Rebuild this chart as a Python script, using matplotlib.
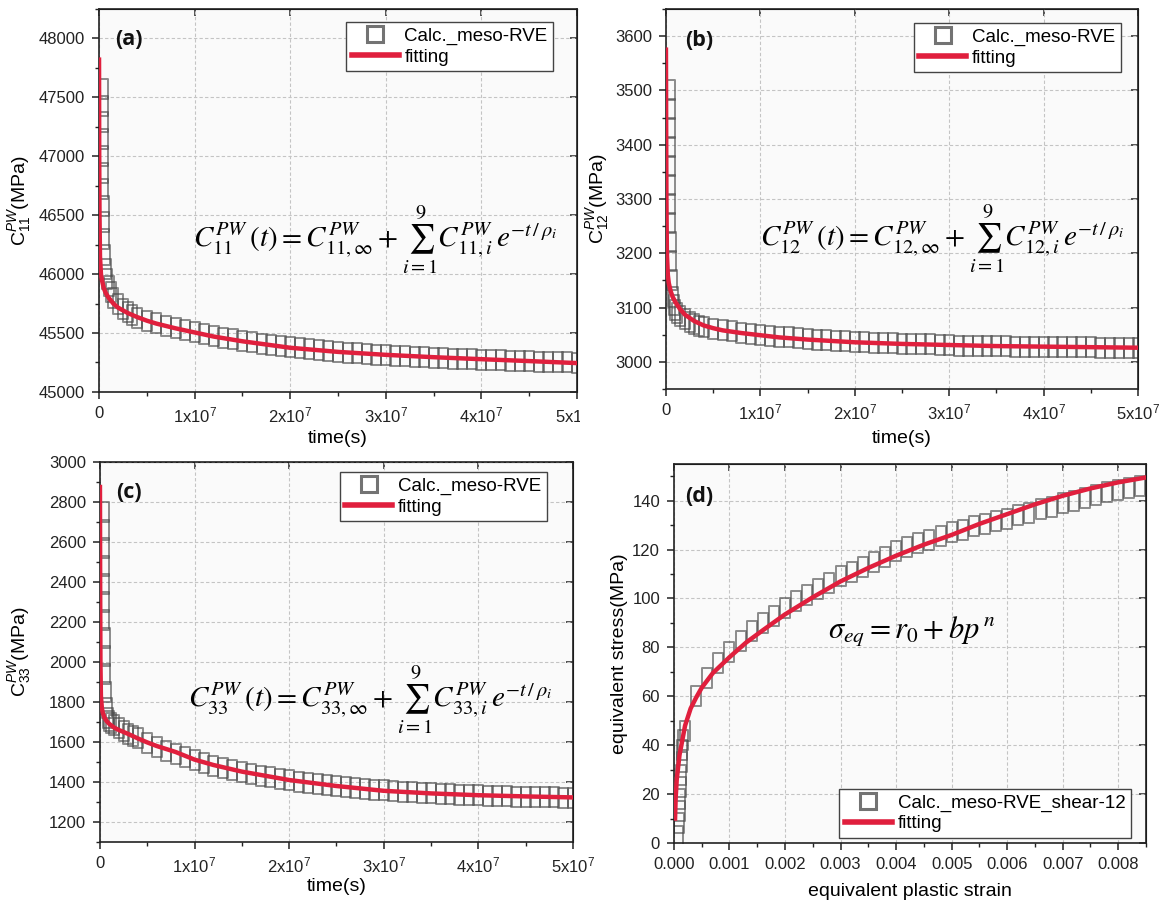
import numpy as np
import matplotlib
matplotlib.use("Agg")
import matplotlib.pyplot as plt
from matplotlib.path import Path
from matplotlib.lines import Line2D
from matplotlib.ticker import MultipleLocator
from matplotlib.transforms import Bbox, TransformedBbox

plt.rcParams["font.family"] = ["Liberation Sans", "DejaVu Sans"]
plt.rcParams["mathtext.fontset"] = "custom"
plt.rcParams["mathtext.rm"] = "Liberation Sans"
plt.rcParams["mathtext.it"] = "Liberation Sans:italic"
plt.rcParams["mathtext.bf"] = "Liberation Sans:bold"

# ---------------- DATA ----------------
# time samples of the meso-RVE calculation (shared by panels a, b, c)
time_s = [4.0e5, 4.1e5, 4.2e5, 4.3e5, 4.4e5, 4.5e5, 4.6e5, 4.8e5, 5.0e5, 5.5e5, 6.0e5, 7.0e5,
          8.0e5, 1.0e6, 1.2e6, 1.5e6, 2.0e6, 2.5e6, 3.0e6, 3.5e6, 4.0e6,
          5e6, 6e6, 7e6, 8e6, 9e6, 1.0e7, 1.1e7, 1.2e7, 1.3e7, 1.4e7, 1.5e7,
          1.6e7, 1.7e7, 1.8e7, 1.9e7, 2.0e7, 2.1e7, 2.2e7, 2.3e7, 2.4e7, 2.5e7,
          2.6e7, 2.7e7, 2.8e7, 2.9e7, 3.0e7, 3.1e7, 3.2e7, 3.3e7, 3.4e7, 3.5e7,
          3.6e7, 3.7e7, 3.8e7, 3.9e7, 4.0e7, 4.1e7, 4.2e7, 4.3e7, 4.4e7, 4.5e7,
          4.6e7, 4.7e7, 4.8e7, 4.9e7, 5.0e7]

c11_calc = [47570, 47430, 47290, 47150, 47000, 46860, 46720, 46580, 46440, 46300, 46160, 46040,
            45960, 45900, 45850, 45800, 45745, 45705, 45675, 45650, 45630,
            45605, 45582, 45560, 45541, 45523, 45506, 45490, 45474, 45460, 45446, 45433,
            45421, 45409, 45398, 45388, 45378, 45369, 45361, 45353, 45346, 45339,
            45333, 45327, 45321, 45316, 45311, 45306, 45302, 45298, 45294, 45290,
            45286, 45283, 45280, 45277, 45274, 45271, 45268, 45265, 45262, 45260,
            45257, 45255, 45252, 45250, 45248]

c12_calc = [3500, 3465, 3430, 3395, 3360, 3325, 3290, 3255, 3220, 3185, 3150, 3120,
            3105, 3095, 3090, 3084, 3078, 3073, 3069, 3066, 3064,
            3061, 3058, 3056, 3054, 3052, 3050, 3048, 3046, 3045, 3043, 3042,
            3041, 3040, 3039, 3038, 3037, 3036, 3035, 3035, 3034, 3033,
            3033, 3032, 3032, 3031, 3031, 3030, 3030, 3030, 3029, 3029,
            3029, 3028, 3028, 3028, 3028, 3027, 3027, 3027, 3027, 3027,
            3026, 3026, 3026, 3026, 3026]

c33_calc = [2750, 2660, 2570, 2480, 2390, 2300, 2210, 2120, 2030, 1940, 1850, 1770,
            1720, 1705, 1695, 1685, 1670, 1655, 1642, 1630, 1618,
            1595, 1575, 1557, 1540, 1524, 1508, 1495, 1482, 1470, 1459, 1449,
            1440, 1431, 1423, 1415, 1408, 1401, 1395, 1389, 1384, 1379,
            1374, 1370, 1366, 1362, 1358, 1355, 1352, 1349, 1346, 1343,
            1341, 1339, 1337, 1335, 1333, 1331, 1330, 1328, 1327, 1326,
            1325, 1324, 1323, 1322, 1321]

# fitted Prony series (red curves)
fit_time = [0, 2e4, 5e4, 1e5, 2e5, 3e5, 5e5, 7e5, 1e6, 1.5e6, 2e6, 3e6, 4e6, 5e6, 6e6,
            8e6, 1e7, 1.2e7, 1.5e7, 2e7, 2.5e7, 3e7, 3.5e7, 4e7, 4.5e7, 5e7]
c11_fit = [47820, 47000, 46500, 46150, 46000, 45950, 45880, 45840, 45800, 45750, 45715,
           45670, 45635, 45605, 45580, 45540, 45505, 45470, 45430, 45375, 45340, 45315,
           45295, 45278, 45262, 45245]
c12_fit = [3575, 3450, 3300, 3200, 3160, 3145, 3130, 3120, 3110, 3097, 3087, 3075, 3067,
           3062, 3058, 3053, 3049, 3045, 3041, 3036, 3033, 3031, 3029, 3028, 3027, 3026]
c33_fit = [2875, 2400, 2000, 1830, 1770, 1745, 1720, 1705, 1690, 1672, 1660, 1640, 1618,
           1598, 1580, 1550, 1512, 1485, 1452, 1410, 1380, 1356, 1343, 1334, 1328, 1323]

# panel (d): shear-12 hardening curve
strain_calc = [0.00008, 0.00009, 0.00010, 0.00011, 0.00012, 0.00013, 0.00014, 0.00015, 0.00017,
               0.0002, 0.0004, 0.0006, 0.0008, 0.0010, 0.0012, 0.0014, 0.0016, 0.0018,
               0.0020, 0.0022, 0.0024, 0.0026, 0.0028, 0.0030, 0.0032, 0.0034, 0.0036,
               0.0038, 0.0040, 0.0042, 0.0044, 0.0046, 0.0048, 0.0050, 0.0052, 0.0054,
               0.0056, 0.0058, 0.0060, 0.0062, 0.0064, 0.0066, 0.0068, 0.0070, 0.0072,
               0.0074, 0.0076, 0.0078, 0.0080, 0.0082, 0.0084]
stress_calc = [3, 8, 13, 18, 23, 28, 33, 38, 42,
               46, 60, 67.5, 73.5, 78, 82.5, 86.5, 90, 93,
               96, 99, 101.5, 104, 106.5, 109, 111, 113, 115,
               117, 119.5, 121, 122.5, 124, 125.5, 127, 128, 129.5,
               130.5, 131.5, 132.5, 134, 135, 136.5, 137.5, 139, 140,
               141, 142.5, 143.5, 144.5, 145, 146]
strain_fit = [0.00002, 0.00003, 0.00005, 0.0001, 0.0002, 0.0003, 0.0004, 0.0005, 0.0007,
              0.001, 0.0013, 0.0016, 0.002, 0.0025, 0.003, 0.0035, 0.004, 0.0045, 0.005,
              0.0055, 0.006, 0.0065, 0.007, 0.0075, 0.008, 0.0085]
stress_fit = [10, 18, 26, 36, 48, 55, 59.5, 63.5, 69.5,
              76, 82, 87, 93.5, 100.5, 107, 112.5, 117.5, 122, 126,
              130.5, 134.5, 138.5, 142, 145, 147.5, 149.5]

time_ticks = [0, 1e7, 2e7, 3e7, 4e7, 5e7]
time_tick_labels = ["0", "1x10$^7$", "2x10$^7$", "3x10$^7$", "4x10$^7$", "5x10$^7$"]
strain_ticks = [0, 0.001, 0.002, 0.003, 0.004, 0.005, 0.006, 0.007, 0.008]
strain_tick_labels = ["0.000", "0.001", "0.002", "0.003", "0.004", "0.005",
                      "0.006", "0.007", "0.008"]

# ---------------- STYLE ----------------
RED = "#e01f3d"
BOX = (0.28, 0.28, 0.28, 0.62)
# open rectangle, taller than wide, as the Origin symbol appears in the figure
RECT = Path([(-0.27, -0.5), (0.27, -0.5), (0.27, 0.5), (-0.27, 0.5), (0, 0)],
            [Path.MOVETO, Path.LINETO, Path.LINETO, Path.LINETO, Path.CLOSEPOLY])

fig = plt.figure(figsize=(11.61, 9.05), dpi=100)
fig.patch.set_facecolor("white")

ax_a = fig.add_axes([0.0853, 0.5669, 0.4117, 0.4232])
ax_b = fig.add_axes([0.5736, 0.5702, 0.4066, 0.4199])
ax_c = fig.add_axes([0.0861, 0.0696, 0.4074, 0.4199])
ax_d = fig.add_axes([0.5805, 0.0685, 0.4066, 0.4188])


def style_axis(ax, xlim, ylim, xticks, xlabels, xminor, ymajor, yminor):
    ax.set_facecolor("#fafafa")
    ax.set_xlim(*xlim)
    ax.set_ylim(*ylim)
    ax.set_xticks(xticks)
    ax.set_xticklabels(xlabels)
    ax.xaxis.set_minor_locator(MultipleLocator(xminor))
    ax.yaxis.set_major_locator(MultipleLocator(ymajor))
    ax.yaxis.set_minor_locator(MultipleLocator(yminor))
    ax.tick_params(which="major", direction="out", length=5, width=1.1,
                   labelsize=12, colors="#222222", pad=5)
    ax.tick_params(which="minor", direction="out", length=3, width=1.0, colors="#222222")
    ax.grid(True, which="major", color="#c4c4c4", ls=(0, (3, 2)), lw=0.8)
    ax.set_axisbelow(True)
    for sp in ax.spines.values():
        sp.set_linewidth(1.2)
        sp.set_color("#222222")
    top = ax.secondary_xaxis("top")
    top.set_xticks(xticks)
    top.tick_params(direction="in", length=5, width=1.1, labeltop=False, colors="#222222")
    right = ax.secondary_yaxis("right")
    right.set_yticks(np.arange(ylim[0] - ylim[0] % ymajor, ylim[1] + ymajor, ymajor))
    right.tick_params(direction="in", length=5, width=1.1, labelright=False, colors="#222222")


def add_legend(ax, label, **kw):
    handles = [Line2D([], [], ls="none", marker="s", ms=12, mfc="none",
                      mec=(0.45, 0.45, 0.45), mew=2.2),
               Line2D([], [], color=RED, lw=4)]
    leg = ax.legend(handles, [label, "fitting"], fontsize=13.5, frameon=True,
                    fancybox=False, handlelength=2.5, handletextpad=0.3,
                    borderpad=0.3, labelspacing=0.2, borderaxespad=0, **kw)
    leg.get_frame().set_edgecolor("#444444")
    leg.get_frame().set_linewidth(1.0)
    leg.get_frame().set_facecolor("white")
    leg.get_frame().set_alpha(1)


def panel_tag(ax, tag, x, y):
    ax.text(x, y, tag, transform=ax.transAxes, fontsize=15.5, fontweight="bold",
            family="Open Sans", ha="left", va="center", color="#111111")


def draw_calc(ax, x, y):
    ax.plot(x, y, ls="none", marker=RECT, ms=14.5, mfc="none", mec=BOX, mew=1.4)


# (a) C11
style_axis(ax_a, (0, 5e7), (45000, 48250), time_ticks, time_tick_labels, 5e6, 500, 250)
draw_calc(ax_a, time_s, c11_calc)
ax_a.plot(fit_time, c11_fit, color=RED, lw=3.2, zorder=3)
ax_a.set_ylabel(r"C$_{11}^{PW}$(MPa)", fontsize=14)
ax_a.set_xlabel("time(s)", fontsize=14)
ax_a.yaxis.set_label_coords(-0.138, 0.5)
ax_a.xaxis.set_label_coords(0.5, -0.10)
add_legend(ax_a, "Calc._meso-RVE", loc="upper left", bbox_to_anchor=(0.517, 0.966))
panel_tag(ax_a, "(a)", 0.033, 0.92)
ax_a.text(0.577, 0.397,
          r"$C_{11}^{PW}\,(t) = C_{11,\infty}^{PW} + \sum_{i=1}^{9} C_{11,i}^{PW}\,e^{-t\,/\,\rho_i}$",
          transform=ax_a.transAxes, ha="center", va="center", fontsize=21,
          math_fontfamily="stix")
# right-most tick label of (a) is cut by the panel edge in the original figure
last = ax_a.xaxis.get_major_ticks()[-1].label1
last.set_clip_box(TransformedBbox(Bbox([[0, 0], [580 / 1161, 1]]), fig.transFigure))
last.set_clip_on(True)

# (b) C12
style_axis(ax_b, (0, 5e7), (2950, 3650), time_ticks, time_tick_labels, 5e6, 100, 50)
draw_calc(ax_b, time_s, c12_calc)
ax_b.plot(fit_time, c12_fit, color=RED, lw=3.2, zorder=3)
ax_b.set_ylabel(r"C$_{12}^{PW}$(MPa)", fontsize=14)
ax_b.set_xlabel("time(s)", fontsize=14)
ax_b.yaxis.set_label_coords(-0.117, 0.5)
ax_b.xaxis.set_label_coords(0.5, -0.108)
add_legend(ax_b, "Calc._meso-RVE", loc="upper left", bbox_to_anchor=(0.525, 0.963))
panel_tag(ax_b, "(b)", 0.04, 0.918)
ax_b.text(0.585, 0.397,
          r"$C_{12}^{PW}\,(t) = C_{12,\infty}^{PW} + \sum_{i=1}^{9} C_{12,i}^{PW}\,e^{-t\,/\,\rho_i}$",
          transform=ax_b.transAxes, ha="center", va="center", fontsize=21,
          math_fontfamily="stix")

# (c) C33
style_axis(ax_c, (0, 5e7), (1100, 3000), time_ticks, time_tick_labels, 5e6, 200, 100)
draw_calc(ax_c, time_s, c33_calc)
ax_c.plot(fit_time, c33_fit, color=RED, lw=3.2, zorder=3)
ax_c.set_ylabel(r"C$_{33}^{PW}$(MPa)", fontsize=14)
ax_c.set_xlabel("time(s)", fontsize=14)
ax_c.yaxis.set_label_coords(-0.142, 0.5)
ax_c.xaxis.set_label_coords(0.5, -0.095)
add_legend(ax_c, "Calc._meso-RVE", loc="upper left", bbox_to_anchor=(0.507, 0.974))
panel_tag(ax_c, "(c)", 0.034, 0.92)
ax_c.text(0.571, 0.374,
          r"$C_{33}^{PW}\,(t) = C_{33,\infty}^{PW} + \sum_{i=1}^{9} C_{33,i}^{PW}\,e^{-t\,/\,\rho_i}$",
          transform=ax_c.transAxes, ha="center", va="center", fontsize=21,
          math_fontfamily="stix")

# (d) equivalent stress vs plastic strain
style_axis(ax_d, (0, 0.0085), (0, 155), strain_ticks, strain_tick_labels, 0.0005, 20, 10)
draw_calc(ax_d, strain_calc, stress_calc)
ax_d.plot(strain_fit, stress_fit, color=RED, lw=3.2, zorder=3)
ax_d.set_ylabel("equivalent stress(MPa)", fontsize=14)
ax_d.set_xlabel("equivalent plastic strain", fontsize=14)
ax_d.yaxis.set_label_coords(-0.097, 0.5)
ax_d.xaxis.set_label_coords(0.5, -0.105)
add_legend(ax_d, "Calc._meso-RVE_shear-12", loc="lower right", bbox_to_anchor=(0.968, 0.013))
panel_tag(ax_d, "(d)", 0.023, 0.913)
ax_d.text(0.504, 0.557, r"$\sigma_{eq} = r_0 + bp^{\,n}$", transform=ax_d.transAxes,
          ha="center", va="center", fontsize=22, math_fontfamily="stix")

fig.savefig("out.png", dpi=100, facecolor=fig.get_facecolor())
